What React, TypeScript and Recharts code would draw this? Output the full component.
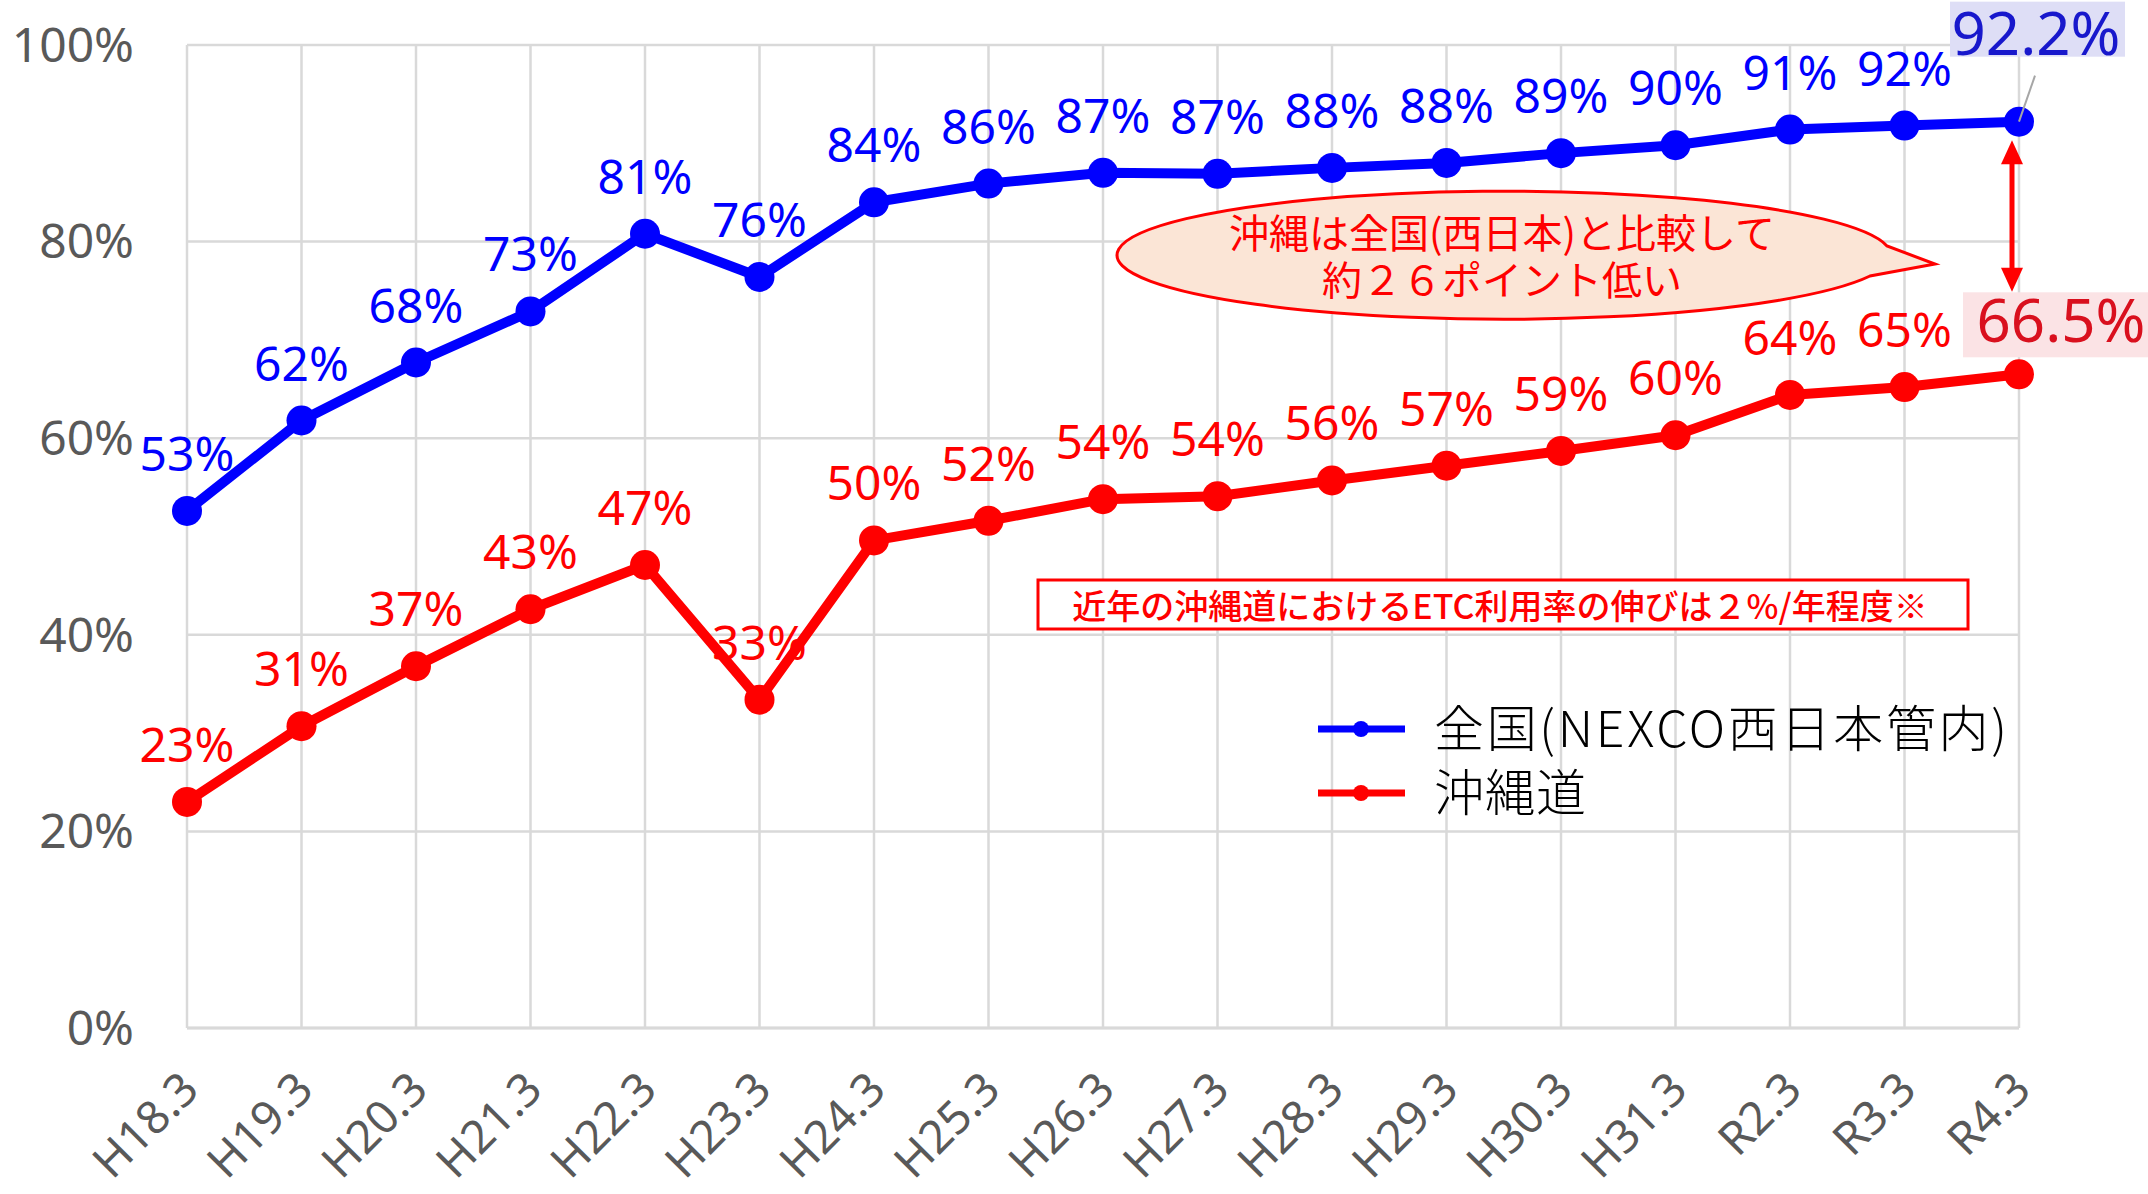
import React from 'react';
import {
  LineChart,
  Line,
  XAxis,
  YAxis,
  CartesianGrid,
  LabelList,
  Legend,
  ReferenceLine,
  Customized,
} from 'recharts';

const categories = [
  'H18.3', 'H19.3', 'H20.3', 'H21.3', 'H22.3', 'H23.3', 'H24.3', 'H25.3', 'H26.3',
  'H27.3', 'H28.3', 'H29.3', 'H30.3', 'H31.3', 'R2.3', 'R3.3', 'R4.3',
];
const nationalRates = [52.6, 61.8, 67.7, 72.9, 80.8, 76.4, 84.0, 85.9, 87.0, 86.9, 87.5, 88.0, 89.0, 89.8, 91.4, 91.8, 92.2];
const okinawaRates = [23.0, 30.7, 36.8, 42.6, 47.1, 33.4, 49.6, 51.6, 53.8, 54.1, 55.7, 57.2, 58.7, 60.3, 64.4, 65.2, 66.5];
const yTicks = [0, 20, 40, 60, 80, 100];

const nationalName = '全国(NEXCO西日本管内)';
const okinawaName = '沖縄道';
const calloutLines = ['沖縄は全国(西日本)と比較して', '約２６ポイント低い'];
const noteText = '近年の沖縄道におけるETC利用率の伸びは２%/年程度※';

const data = categories.map((c, i) => ({ cat: c, national: nationalRates[i], okinawa: okinawaRates[i] }));

const LAT = 'Noto Sans, Open Sans, sans-serif';
const JP = '"Noto Sans CJK JP", "Noto Sans", sans-serif';
const BLUE = '#0000FF';
const RED = '#FF0000';
const last = categories.length - 1;

const XTick = (props: any) => {
  const { x, y, payload } = props;
  const ax = x + 14;
  const ay = y + 64;
  return (
    <text x={ax} y={ay} textAnchor="end" fontSize={46} fontFamily={LAT} fill="#595959" transform={`rotate(-45, ${ax}, ${ay})`}>
      {payload.value}
    </text>
  );
};

const YTick = (props: any) => {
  const { y, payload } = props;
  return (
    <text x={134} y={y} dy="0.35em" textAnchor="end" fontSize={48} fontFamily={LAT} fill="#595959">
      {payload.value}%
    </text>
  );
};

const makeLabel = (color: string, kind: 'national' | 'okinawa') => (props: any) => {
  const x = props.x ?? props.viewBox?.x;
  const y = props.y ?? props.viewBox?.y;
  const { value, index } = props;
  if (x == null || y == null) return null;
  if (index === last) {
    if (kind === 'national') {
      return (
        <g>
          <line x1={x + 16} y1={y - 46} x2={x} y2={y} stroke="#A6A6A6" strokeWidth={2} />
          <rect x={x - 69} y={y - 120} width={175} height={55} fill="#DEDEF6" />
          <text x={x + 17} y={y - 67} textAnchor="middle" fontSize={60} fontFamily={LAT} fill="#1818CC">
            {value}%
          </text>
        </g>
      );
    }
    return (
      <g>
        <rect x={x - 56} y={y - 82} width={200} height={65} fill="#FBE3E5" />
        <text x={x + 42} y={y - 32} textAnchor="middle" fontSize={60} fontFamily={LAT} fill="#D9101E">
          {value}%
        </text>
      </g>
    );
  }
  return (
    <text x={x} y={y - 40} textAnchor="middle" fontSize={48} fontFamily={LAT} fill={color}>
      {Math.round(value)}%
    </text>
  );
};

const legendWidths = [573, 152];

const LegendContent = (props: any) => {
  const payload = props.payload || [];
  return (
    <svg width={840} height={150}>
      {payload.map((p: any, i: number) => {
        const cy = 40 + i * 64;
        return (
          <g key={i}>
            <line x1={18} y1={cy} x2={105} y2={cy} stroke={p.color} strokeWidth={7} />
            <circle cx={61} cy={cy} r={8} fill={p.color} />
            <text
              x={134}
              y={cy}
              dy="0.36em"
              fontSize={50}
              fontFamily={JP}
              fontWeight={300}
              fill="#000"
              textLength={legendWidths[i]}
              lengthAdjust="spacing"
            >
              {p.value}
            </text>
          </g>
        );
      })}
    </svg>
  );
};

const Annotations = () => {
  const cx = 1504;
  const rx = 387;
  const ry = 64;
  const p1 = { x: 1887, y: 246 };
  const p2 = { x: 1870, y: 276 };
  const tip = { x: 1935, y: 264 };
  const d = `M ${p1.x} ${p1.y} A ${rx} ${ry} 0 1 0 ${p2.x} ${p2.y} L ${tip.x} ${tip.y} Z`;
  return (
    <g>
      <path d={d} fill="#FBE5D6" stroke={RED} strokeWidth={3} strokeLinejoin="miter" />
      <text x={cx - 2} y={248} textAnchor="middle" fontSize={40} fontFamily={JP} fill={RED}>
        {calloutLines[0]}
      </text>
      <text x={cx - 2} y={295} textAnchor="middle" fontSize={40} fontFamily={JP} fill={RED}>
        {calloutLines[1]}
      </text>
      <rect x={1038} y={580} width={930} height={49} fill="#FFFFFF" stroke={RED} strokeWidth={3} />
      <text x={1500} y={619} textAnchor="middle" fontSize={34} fontFamily={JP} fontWeight={500} fill={RED}>
        {noteText}
      </text>
    </g>
  );
};

const ArrowShape = (props: any) => {
  const { x1, y1, x2, y2 } = props;
  if (x1 == null) return null;
  const x = x1 - 7;
  const top = Math.min(y1, y2);
  const bot = Math.max(y1, y2);
  const h = 24;
  const w = 11;
  return (
    <g>
      <line x1={x} y1={top + h - 2} x2={x} y2={bot - h + 2} stroke={RED} strokeWidth={5} />
      <polygon points={`${x},${top} ${x - w},${top + h} ${x + w},${top + h}`} fill={RED} />
      <polygon points={`${x},${bot} ${x - w},${bot - h} ${x + w},${bot - h}`} fill={RED} />
    </g>
  );
};

export default function App() {
  return (
    <div style={{ position: 'absolute', left: 0, top: 0, width: 2148, height: 1194, background: '#fff' }}>
      <LineChart
        width={2148}
        height={1194}
        data={data}
        margin={{ top: 45, right: 129, bottom: 0, left: 0 }}
      >
        <CartesianGrid stroke="#D9D9D9" strokeWidth={2.5} vertical horizontal />
        <XAxis
          dataKey="cat"
          height={166}
          tick={<XTick />}
          tickLine={false}
          tickSize={0}
          tickMargin={0}
          axisLine={{ stroke: '#D9D9D9', strokeWidth: 3 }}
          interval={0}
        />
        <YAxis
          type="number"
          domain={[0, 100]}
          ticks={yTicks}
          width={187}
          tick={<YTick />}
          tickLine={false}
          tickSize={0}
          axisLine={false}
          interval={0}
        />
        <Legend
          layout="vertical"
          align="center"
          verticalAlign="middle"
          content={<LegendContent />}
          wrapperStyle={{ position: 'absolute', left: 1300, top: 689, width: 840, height: 150 }}
        />
        <Customized component={<Annotations />} />
        <ReferenceLine
          segment={[{ x: 'R4.3', y: 90.3 }, { x: 'R4.3', y: 74.9 }]}
          shape={<ArrowShape />}
          ifOverflow="visible"
        />
        <Line
          name={nationalName}
          dataKey="national"
          stroke={BLUE}
          strokeWidth={10}
          strokeLinejoin="round"
          dot={{ r: 15, fill: BLUE, stroke: BLUE, strokeWidth: 0 }}
          activeDot={false}
          isAnimationActive={false}
        >
          <LabelList dataKey="national" content={makeLabel(BLUE, 'national')} />
        </Line>
        <Line
          name={okinawaName}
          dataKey="okinawa"
          stroke={RED}
          strokeWidth={10}
          strokeLinejoin="round"
          dot={{ r: 15, fill: RED, stroke: RED, strokeWidth: 0 }}
          activeDot={false}
          isAnimationActive={false}
        >
          <LabelList dataKey="okinawa" content={makeLabel(RED, 'okinawa')} />
        </Line>
      </LineChart>
    </div>
  );
}
